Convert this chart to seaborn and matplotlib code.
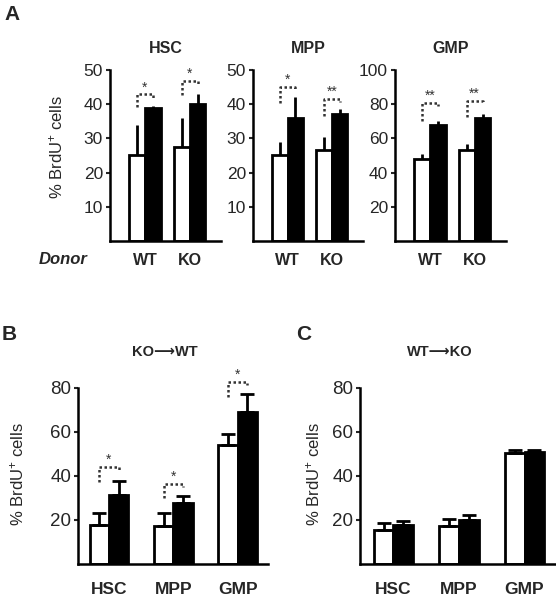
import pandas as pd
import matplotlib
matplotlib.use("Agg")
import matplotlib.pyplot as plt
import seaborn as sns

# Panel A - donor WT / KO, open = first bar, filled = second bar
donors = ["WT", "KO"]
hsc_open = [25, 27.5]
hsc_open_err = [9, 8.5]
hsc_filled = [39, 40]
hsc_filled_err = [0.6, 3]
mpp_open = [25, 26.5]
mpp_open_err = [4, 4]
mpp_filled = [36, 37]
mpp_filled_err = [6, 1.5]
gmp_open = [48, 53]
gmp_open_err = [3, 4]
gmp_filled = [68, 72]
gmp_filled_err = [2, 2]

# Panels B and C - cell types
cell_types = ["HSC", "MPP", "GMP"]
b_open = [17.6, 17.1, 54.1]
b_open_err = [5.6, 6.1, 5.1]
b_filled = [31.2, 27.6, 69.1]
b_filled_err = [6.4, 3.2, 8.0]
c_open = [15.6, 17.1, 50.4]
c_open_err = [3.0, 3.4, 1.3]
c_filled = [17.9, 20.2, 50.9]
c_filled_err = [1.8, 2.1, 0.9]

# significance brackets: left leg bottom, top, right leg bottom, label
hsc_sig = ([39.1, 42.6], [42.9, 46.8], [41.8, 45.6], ["*", "*"])
mpp_sig = ([40.4, 36.6], [45.1, 41.6], [44.2, 40.7], ["*", "**"])
gmp_sig = ([70.2, 72.5], [80.7, 81.9], [79.0, 80.7], ["**", "**"])
b_sig = ([37.3, 30.0, 75.9], [44.0, 36.4, 82.7], [41.8, 35.0, 81.4], ["*", "*", "*"])

sns.set_style("white")
plt.rcParams['font.family'] = ['Liberation Sans', 'DejaVu Sans']
plt.rcParams['mathtext.fontset'] = 'custom'
plt.rcParams['mathtext.rm'] = 'Liberation Sans'
plt.rcParams['mathtext.it'] = 'Liberation Sans:italic'
plt.rcParams['mathtext.bf'] = 'Liberation Sans:bold'

ylab = r"% BrdU$^{\mathrm{+}}$ cells"


def bar_panel(ax, groups, op, op_err, fi, fi_err, width, capsize, ylim, yticks,
              tick_size, xpad):
    df = pd.DataFrame({
        'group': groups * 2,
        'cond': ['open'] * len(groups) + ['filled'] * len(groups),
        'value': op + fi,
    })
    sns.barplot(data=df, x='group', y='value', hue='cond', order=groups,
                hue_order=['open', 'filled'],
                palette={'open': 'white', 'filled': 'black'},
                width=width, edgecolor='black', linewidth=2,
                errorbar=None, legend=False, ax=ax)
    # upward-only error bars on top of each bar
    for cont, vals, errs in zip(ax.containers[:2], [op, fi], [op_err, fi_err]):
        xs = [b.get_x() + b.get_width() / 2 for b in cont]
        ax.errorbar(xs, vals, yerr=[[0] * len(vals), errs], fmt='none',
                    ecolor='black', elinewidth=2, capsize=capsize,
                    capthick=2, zorder=3)
    ax.set_ylim(*ylim)
    ax.set_yticks(yticks)
    sns.despine(ax=ax)
    for s in ['left', 'bottom']:
        ax.spines[s].set_linewidth(1.8)
        ax.spines[s].set_color('black')
    ax.tick_params(axis='y', length=3, width=1.5, direction='out',
                   labelsize=tick_size, pad=2, left=True)
    ax.tick_params(axis='x', length=0, pad=xpad, labelsize=tick_size - 1)
    for lbl in ax.get_xticklabels():
        lbl.set_fontweight('bold')
    ax.set_xlabel('')
    ax.set_ylabel('')


def brackets(ax, sig):
    left, top, right, labels = sig
    op_bars = list(ax.containers[0])
    fi_bars = list(ax.containers[1])
    for i, lab in enumerate(labels):
        xl = op_bars[i].get_x() + op_bars[i].get_width() / 2
        xr = fi_bars[i].get_x() + fi_bars[i].get_width() / 2
        ax.plot([xl, xl, xr, xr], [left[i], top[i], top[i], right[i]],
                ls=(0, (1, 1)), color='#333333', lw=1.8, zorder=4,
                clip_on=False)
        ax.annotate(lab, ((xl + xr) / 2, top[i]), xytext=(0, 0),
                    textcoords='offset points', ha='center', va='bottom',
                    fontsize=10, color='#333333', annotation_clip=False)


fig = plt.figure(figsize=(5.56, 6.0), dpi=100)
W, H = 556.0, 600.0


def add_ax(x0, x1, y0, y1):
    return fig.add_axes([x0 / W, 1 - y1 / H, (x1 - x0) / W, (y1 - y0) / H])


ax_hsc = add_ax(110, 221, 70, 241)
ax_mpp = add_ax(253, 363, 70, 241)
ax_gmp = add_ax(395, 506, 70, 241)
ax_b = add_ax(78, 268, 388, 564)
ax_c = add_ax(360, 556, 388, 564)

a_specs = [
    (ax_hsc, "HSC", hsc_open, hsc_open_err, hsc_filled, hsc_filled_err, (0, 50), [10, 20, 30, 40, 50], hsc_sig),
    (ax_mpp, "MPP", mpp_open, mpp_open_err, mpp_filled, mpp_filled_err, (0, 50), [10, 20, 30, 40, 50], mpp_sig),
    (ax_gmp, "GMP", gmp_open, gmp_open_err, gmp_filled, gmp_filled_err, (0, 100), [20, 40, 60, 80, 100], gmp_sig),
]
for ax, title, op, ope, fi, fie, ylim, yt, sig in a_specs:
    bar_panel(ax, donors, op, ope, fi, fie, 0.7, 0, ylim, yt, 12.5, 9)
    ax.set_xlim(-0.78, 1.70)
    ax.set_title(title, fontsize=11.5, fontweight='bold', pad=12)
    brackets(ax, sig)

ax_hsc.set_ylabel(ylab, fontsize=12)
ax_hsc.yaxis.set_label_coords(-0.40, 0.55)

bar_panel(ax_b, cell_types, b_open, b_open_err, b_filled, b_filled_err,
          0.6, 5, (0, 80), [20, 40, 60, 80], 13.5, 13)
ax_b.set_xlim(-0.48, 2.47)
brackets(ax_b, b_sig)
ax_b.set_ylabel(ylab, fontsize=12)
ax_b.yaxis.set_label_coords(-0.27, 0.51)

bar_panel(ax_c, cell_types, c_open, c_open_err, c_filled, c_filled_err,
          0.6, 5, (0, 80), [20, 40, 60, 80], 13.5, 13)
ax_c.set_xlim(-0.51, 2.48)
ax_c.set_ylabel(ylab, fontsize=12)
ax_c.yaxis.set_label_coords(-0.19, 0.51)

# panel titles and letters
fig.text(165 / W, 1 - 352 / H, "KO\u27f6WT", ha='center', va='center',
         fontsize=10.5, fontweight='bold')
fig.text(440 / W, 1 - 352 / H, "WT\u27f6KO", ha='center', va='center',
         fontsize=10.5, fontweight='bold')
fig.text(39 / W, 1 - 260 / H, "Donor", ha='left', va='center',
         fontsize=12, fontweight='bold', fontstyle='italic')
fig.text(4 / W, 1 - 14 / H, "A", ha='left', va='center', fontsize=15, fontweight='bold')
fig.text(2 / W, 1 - 335 / H, "B", ha='left', va='center', fontsize=15, fontweight='bold')
fig.text(296 / W, 1 - 335 / H, "C", ha='left', va='center', fontsize=15, fontweight='bold')

fig.savefig("out.png", dpi=100)
